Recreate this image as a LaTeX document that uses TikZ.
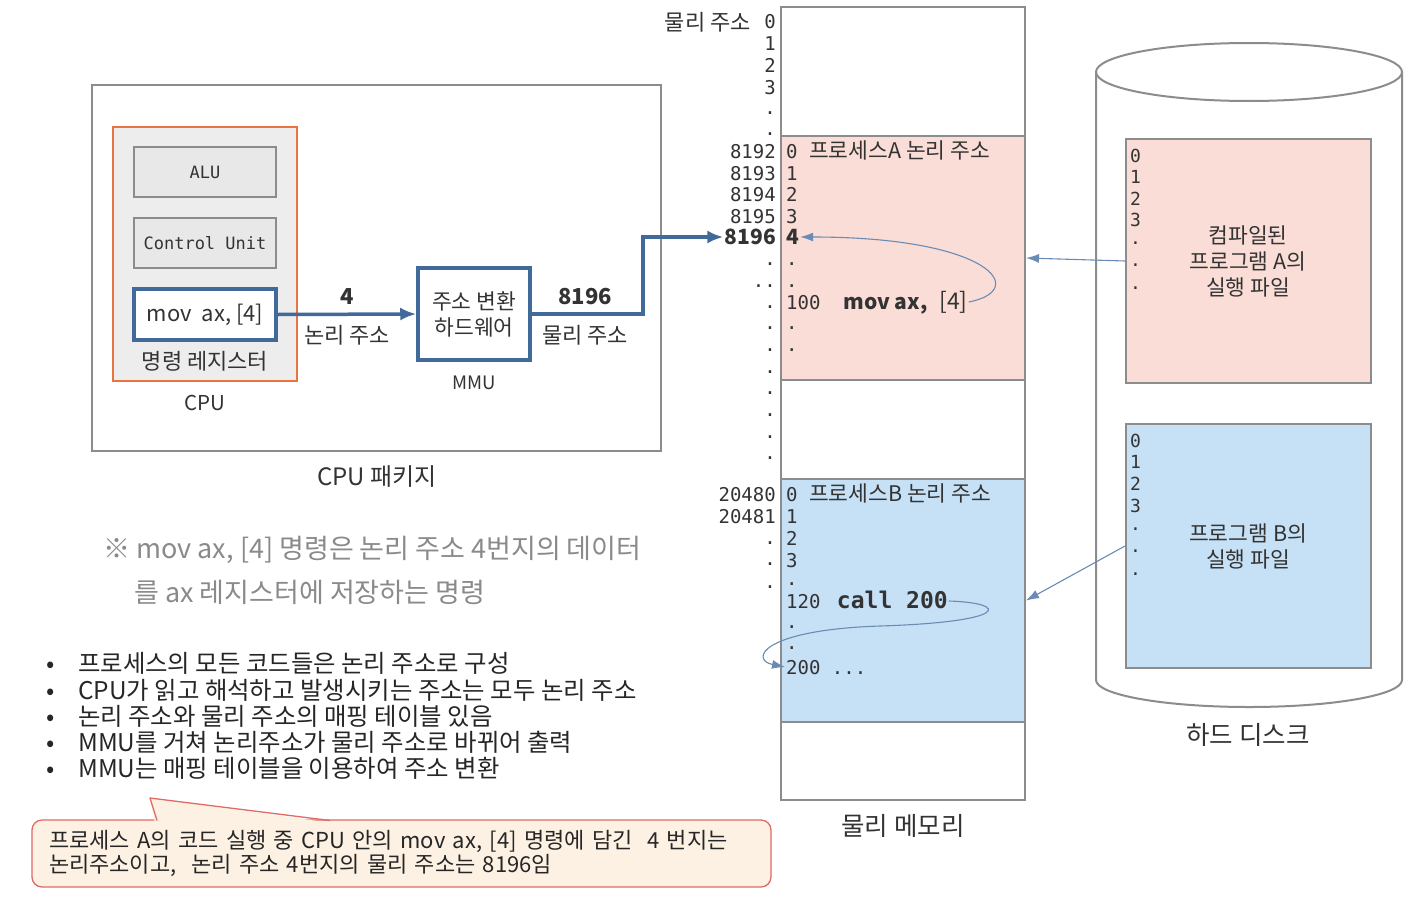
\documentclass[tikz,border=0pt]{standalone}
\usepackage{fontspec}
\setmainfont{Noto Sans CJK KR}
\newfontfamily\addrfont{DejaVu Sans Mono}
\usetikzlibrary{arrows.meta, positioning}
\definecolor{cLine} {HTML}{8C8C8C}
\definecolor{cBlue} {HTML}{41699A}
\definecolor{cThin} {HTML}{6A8CB4}
\definecolor{cCpu}  {HTML}{E8743F}
\definecolor{cPink} {HTML}{F9DDD6}
\definecolor{cSky}  {HTML}{C6E0F5}
\definecolor{cText} {HTML}{333333}
\definecolor{cNote} {HTML}{8A8A8A}
\definecolor{cTip}  {HTML}{FCF1E3}
\definecolor{cTipBd}{HTML}{E06A66}
\newcommand{\fsz}[2]{\fontsize{#1}{#2}\selectfont}

\begin{document}
\begin{tikzpicture}[x=1pt, y=-1pt,
      bx/.style   = {draw=cLine, line width=2pt, inner sep=0pt},
      unit/.style = {bx, fill=black!9, minimum width=142, minimum height=50, font=\addrfont\fsz{17}{20}, text=cText},
      blu/.style  = {draw=cBlue, line width=3.5pt, fill=white, inner sep=0pt},
      lbl/.style  = {font=\fsz{22}{25}, text=cText, align=center, inner sep=1pt},
      addr/.style = {anchor=east, inner sep=1pt, font=\addrfont\fsz{19}{22}, text=cText, text height=15pt, text depth=1pt},
      cell/.style = {addr, anchor=west},
      ar/.style   = {-{Latex[length=16pt, width=13pt]}, draw=cBlue, line width=3.5pt},
      ln/.style   = {draw=cBlue, line width=3.5pt},
      thin/.style = {-{Latex[length=13pt, width=9pt]}, draw=cThin, line width=1.1pt},
      bul/.style  = {anchor=west, inner sep=0pt, font=\fsz{24.4}{26}, text=black!85},
      note/.style = {anchor=west, inner sep=0pt, font=\fsz{27}{30}, text=cNote} ]
    \useasboundingbox[fill=white] (0,0) rectangle (1420,907);

    % CPU package
    \node[bx, minimum width=569, minimum height=366] (pkg) at (376.5,268) {};
    \node[bx, draw=cCpu, fill=black!7, minimum width=184, minimum height=254] (cpu) at (205,254) {};
    \node[unit] (alu) at (205,172) {ALU};
    \node[unit] (cu) at (205,243) {Control Unit};
    \node[blu, minimum width=142, minimum height=51, font=\fsz{22}{24}, text=cText] (ir) at (205,314.5) {mov\ \ ax,\ [4]};
    \node[lbl] (irlbl) at (205,361) {명령 레지스터};
    \node[lbl, font=\fsz{20.5}{24}] (cpulbl) at (205,403) {CPU};
    \node[blu, minimum width=112, minimum height=92, font=\fsz{21.5}{26}, text=cText, align=center] (mmu) at (474,314) {주소 변환\\하드웨어};
    \node[lbl, font=\fsz{18.5}{22}] (mmulbl) at (474,383) {MMU};
    \node[lbl, font=\fsz{24}{28}] (pkglbl) at (377,477) {CPU 패키지};

    \node[lbl, font=\bfseries\fsz{22}{24}] (v4) at (347,297) {4};
    \node[lbl] (la) at (347,335) {논리 주소};
    \node[lbl, font=\bfseries\fsz{22}{24}] (v8196) at (585,297) {8196};
    \node[lbl] (pa) at (585,335) {물리 주소};

    % physical memory
    \node[bx, minimum width=244, minimum height=793] (mem) at (903,403.5) {};
    \node[bx, fill=cPink, minimum width=244, minimum height=244] (procA) at (903,258) {};
    \node[bx, fill=cSky, minimum width=244, minimum height=243] (procB) at (903,600.5) {};
    \node[lbl, font=\fsz{25.5}{28}] (memlbl) at (903,826) {물리 메모리};

    \node[lbl, anchor=east] (palbl) at (752,22) {물리 주소};
    \foreach \t/\y [count=\i] in {0/22, 1/44, 2/65, 3/87, ./107, ./128, 8192/151, 8193/173, 8194/194, 8195/216,
        ./258, ../280, ./301, ./322, ./344, ./366, ./387, ./409, ./431, ./452,
        20480/494, 20481/516, ./537, ./558, ./581}
      \node[addr] (r\i) at (777,\y) {\t};
    \node[addr, font=\bfseries\fsz{21}{24}] (a8196) at (777,237) {8196};

    \node[cell] (ca0) at (785,151) {0 {\normalfont\fsz{21.5}{24}프로세스A 논리 주소}};
    \foreach \t/\y [count=\i] in {1/173, 2/194, 3/216, ./258, ./280, ./322, ./344}
      \node[cell] (ca\i) at (785,\y) {\t};
    \node[cell, font=\bfseries\fsz{21}{24}] (l4) at (785,237) {4};
    \node[cell] (ins100) at (785,302) {100\ \ {\normalfont\bfseries\fsz{21}{24}mov\ ax,}\ {\normalfont\fsz{23}{26}[4]}};

    \node[cell] (cb0) at (785,494) {0 {\normalfont\fsz{21.5}{24}프로세스B 논리 주소}};
    \foreach \t/\y [count=\i] in {1/516, 2/538, 3/560, ./578, ./621, ./642}
      \node[cell] (cb\i) at (785,\y) {\t};
    \node[cell] (c120) at (785,601) {120\hspace{5pt}\ {\bfseries\fsz{23}{24}call 200}};
    \node[cell] (l200) at (785,667) {200 ...};

    \draw[ar] (ir.east) -- (mmu.west);
    \draw[ln, -{Latex[length=16pt, width=13pt]}] (mmu.east) -- ++(111,0) |- (a8196.west);
    \draw[thin] (ins100.east) .. controls (1030,290) and (990,237) .. (l4.east);
    \draw[thin] (c120.east) .. controls (1010,603) and (1010,622) .. (880,626)
                            .. controls (760,630) and (750,660) .. (l200.west);

    % hard disk
    \draw[bx, fill=white] (1096,72) -- (1096,680) arc[start angle=180, end angle=0, x radius=153, y radius=27] -- (1402,72);
    \draw[bx] (1249,72) ellipse[x radius=153, y radius=29];
    \node[bx, fill=cPink, minimum width=245, minimum height=244] (fileA) at (1248.5,261) {};
    \node[bx, fill=cSky, minimum width=245, minimum height=244] (fileB) at (1248.5,546) {};
    \foreach \t/\y [count=\i] in {0/155, 1/176, 2/198, 3/219, ./237, ./259, ./282}
      \node[cell, font=\addrfont\fsz{18}{22}] (da\i) at (1129,\y) {\t};
    \foreach \t/\y [count=\i] in {0/440, 1/461, 2/483, 3/505, ./523, ./545, ./568}
      \node[cell, font=\addrfont\fsz{18}{22}] (db\i) at (1129,\y) {\t};
    \node[lbl, font=\fsz{21.5}{26}] (txtA) at (1248,261) {컴파일된\\프로그램 A의\\실행 파일};
    \node[lbl, font=\fsz{21.5}{26}] (txtB) at (1248,546) {프로그램 B의\\실행 파일};
    \node[lbl, font=\fsz{25.5}{28}] (disklbl) at (1248,735) {하드 디스크};

    \draw[thin] (fileA.west) -- (procA.east);
    \draw[thin] (fileB.west) -- (procB.east);

    % note and bullets
    \node[note] (note1) at (103,550) {※ mov ax, [4] 명령은 논리 주소 4번지의 데이터};
    \node[note] (note2) at (134,592) {를 ax 레지스터에 저장하는 명령};
    \foreach \t/\y [count=\i] in {{프로세스의 모든 코드들은 논리 주소로 구성}/663,
        {CPU가 읽고 해석하고 발생시키는 주소는 모두 논리 주소}/690,
        {논리 주소와 물리 주소의 매핑 테이블 있음}/716,
        {MMU를 거쳐 논리주소가 물리 주소로 바뀌어 출력}/742,
        {MMU는 매핑 테이블을 이용하여 주소 변환}/768}
      \node[bul] (b\i) at (46,\y) {\makebox[32pt][l]{•}\t};

    % callout
    \node[draw=cTipBd, line width=1.3pt, fill=cTip, rounded corners=10pt, minimum width=739, minimum height=67,
          text width=705, align=left, font=\fsz{22}{24}, text=black!85] (tip) at (401.5,853.5)
      {프로세스 A의 코드 실행 중 CPU 안의 mov ax, [4] 명령에 담긴\ \ 4 번지는\\논리주소이고,\ \ 논리 주소 4번지의 물리 주소는 8196임};
    \fill[cTip] (155,823) -- (150,798) -- (332,823) -- cycle;
    \draw[cTipBd, line width=1.3pt, line join=round] (157,820.5) -- (150,798) -- (330,820.5);
  \end{tikzpicture}
\end{document}
